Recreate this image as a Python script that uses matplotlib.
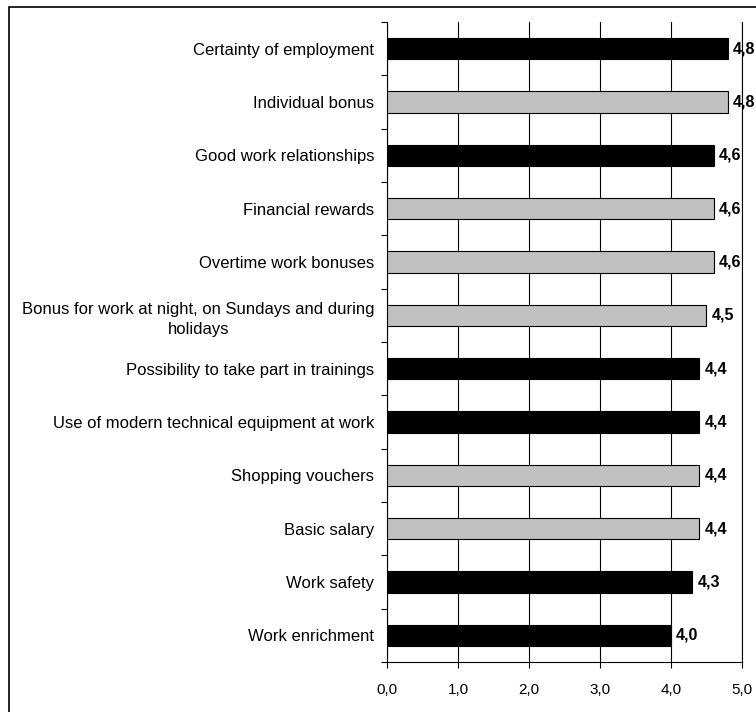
import numpy as np
import matplotlib.pyplot as plt
from matplotlib.patches import Rectangle

plt.rcParams['font.family'] = ['Liberation Sans', 'DejaVu Sans']

categories = ['Certainty of employment', 'Individual bonus', 'Good work relationships',
              'Financial rewards', 'Overtime work bonuses',
              'Bonus for work at night, on Sundays and during\nholidays',
              'Possibility to take part in trainings',
              'Use of modern technical equipment at work', 'Shopping vouchers',
              'Basic salary', 'Work safety', 'Work enrichment']
values = [4.8, 4.8, 4.6, 4.6, 4.6, 4.5, 4.4, 4.4, 4.4, 4.4, 4.3, 4.0]
dark = [True, False, True, False, False, False, True, True, False, False, True, True]
xticks = [0, 1, 2, 3, 4, 5]

fig = plt.figure(figsize=(7.56, 7.12), dpi=100)
ax = fig.add_axes([387 / 756, 1 - 662 / 712, 355 / 756, 640 / 712])

n = len(categories)
y = np.arange(n)[::-1]
colors = ['black' if d else '#c0c0c0' for d in dark]
ax.barh(y, values, height=0.4, color=colors, edgecolor='black', linewidth=0.8, zorder=3)

for yi, v in zip(y, values):
    ax.text(v + 0.07, yi, f'{v:.1f}'.replace('.', ','), va='center', ha='left',
            fontsize=11.5, fontweight='bold', zorder=4)

ax.set_xlim(0, 5)
ax.set_ylim(-0.5, n - 0.5)
ax.set_xticks(xticks)
ax.set_xticklabels([f'{t:.1f}'.replace('.', ',') for t in xticks], fontsize=11)
ax.set_yticks(y)
ax.set_yticklabels(categories, fontsize=12, multialignment='center', linespacing=1.45)
ax.set_yticks(np.arange(-0.5, n, 1), minor=True)
ax.tick_params(axis='y', which='major', length=0, pad=9)
ax.tick_params(axis='y', which='minor', length=4, width=0.8, direction='out')
ax.tick_params(axis='x', length=4, width=0.8, direction='out', pad=11)

ax.grid(axis='x', color='black', linewidth=0.8, zorder=0)
ax.axvline(5, color='black', linewidth=0.8, zorder=1, clip_on=False)
for s in ['top', 'right']:
    ax.spines[s].set_visible(False)
ax.spines['left'].set_linewidth(0.8)
ax.spines['bottom'].set_linewidth(0.8)

# outer frame
fig.patches.append(Rectangle((9 / 756, -0.1), 1.2, 1.1 - 7 / 712,
                             transform=fig.transFigure, fill=False,
                             edgecolor='black', linewidth=1.2))

fig.savefig('out.png', dpi=100)
